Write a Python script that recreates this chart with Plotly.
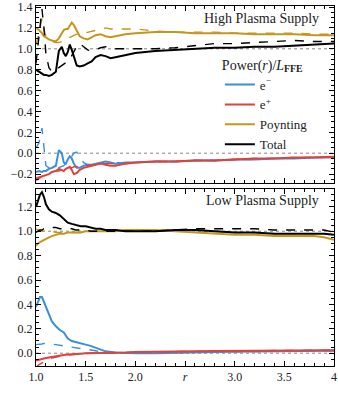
import plotly.graph_objects as go
from plotly.subplots import make_subplots

# --- Data: High plasma supply (top panel) ---
r_hi = [1.0, 1.03, 1.06, 1.08, 1.1, 1.13, 1.16, 1.2, 1.23, 1.26, 1.28, 1.3, 1.32, 1.34, 1.36, 1.38,
        1.41, 1.44, 1.48, 1.52, 1.56, 1.6, 1.65, 1.7, 1.75, 1.8, 1.9, 2.0, 2.2, 2.4, 2.6, 2.8, 3.0,
        3.2, 3.4, 3.6, 3.8, 4.0]
elec_hi = [-0.18, -0.17, -0.18, -0.17, -0.17, -0.15, -0.14, -0.12, 0.03, 0.0, -0.09, -0.10, -0.06,
           -0.03, -0.05, -0.10, -0.14, -0.14, -0.12, -0.11, -0.11, -0.10, -0.09, -0.08, -0.09, -0.10,
           -0.09, -0.09, -0.08, -0.08, -0.07, -0.07, -0.06, -0.06, -0.05, -0.05, -0.04, -0.04]
elec_hi_d = [0.05, 0.10, 0.24, 0.05, -0.12, -0.14, -0.15, -0.15, -0.14, -0.13, -0.12, -0.10, -0.08,
             -0.06, -0.03, 0.0, 0.01, -0.04, -0.09, -0.11, -0.12, -0.11, -0.10, -0.10, -0.09, -0.09,
             -0.09, -0.09, -0.08, -0.08, -0.07, -0.07, -0.06, -0.06, -0.05, -0.05, -0.04, -0.04]
posi_hi = [-0.24, -0.23, -0.22, -0.22, -0.21, -0.20, -0.18, -0.17, -0.15, -0.16, -0.17, -0.15, -0.14,
           -0.13, -0.16, -0.20, -0.19, -0.16, -0.14, -0.13, -0.12, -0.11, -0.10, -0.11, -0.12, -0.12,
           -0.10, -0.09, -0.08, -0.08, -0.07, -0.07, -0.06, -0.05, -0.05, -0.04, -0.04, -0.035]
posi_hi_d = [-0.26, -0.24, -0.22, -0.21, -0.20, -0.19, -0.18, -0.17, -0.17, -0.16, -0.16, -0.15, -0.15,
             -0.14, -0.14, -0.13, -0.13, -0.12, -0.12, -0.12, -0.11, -0.11, -0.11, -0.10, -0.10, -0.10,
             -0.10, -0.09, -0.08, -0.08, -0.07, -0.07, -0.06, -0.05, -0.05, -0.04, -0.04, -0.035]
poyn_hi = [1.20, 1.18, 1.15, 1.12, 1.11, 1.09, 1.08, 1.07, 1.10, 1.15, 1.18, 1.19, 1.19, 1.22, 1.25,
           1.23, 1.17, 1.12, 1.10, 1.09, 1.11, 1.13, 1.14, 1.12, 1.11, 1.12, 1.14, 1.15, 1.16, 1.16,
           1.15, 1.15, 1.15, 1.14, 1.14, 1.14, 1.13, 1.13]
poyn_hi_d = [1.04, 1.15, 1.29, 1.18, 1.12, 1.09, 1.07, 1.06, 1.06, 1.07, 1.08, 1.10, 1.10, 1.11, 1.12,
             1.13, 1.14, 1.14, 1.15, 1.16, 1.17, 1.18, 1.19, 1.20, 1.19, 1.19, 1.19, 1.19, 1.17, 1.16,
             1.16, 1.16, 1.15, 1.15, 1.15, 1.15, 1.14, 1.14]
tot_hi = [0.80, 0.78, 0.76, 0.75, 0.75, 0.74, 0.75, 0.78, 0.98, 1.02, 0.96, 0.93, 0.97, 1.04, 0.99,
          0.92, 0.84, 0.83, 0.84, 0.86, 0.88, 0.92, 0.94, 0.93, 0.91, 0.92, 0.94, 0.96, 0.98, 0.99,
          1.00, 1.01, 1.01, 1.02, 1.02, 1.03, 1.04, 1.05]
tot_hi_d = [0.86, 1.10, 1.38, 1.20, 0.95, 0.82, 0.78, 0.80, 0.82, 0.84, 0.85, 0.86, 0.88, 0.90, 0.93,
            0.97, 1.02, 1.05, 1.02, 0.99, 0.98, 0.99, 1.01, 1.02, 1.01, 1.00, 1.00, 1.00, 1.00, 1.01,
            1.03, 1.05, 1.05, 1.06, 1.07, 1.08, 1.07, 1.07]

# --- Data: Low plasma supply (bottom panel) ---
r_lo = [1.0, 1.02, 1.04, 1.06, 1.08, 1.1, 1.13, 1.16, 1.2, 1.24, 1.28, 1.32, 1.36, 1.4, 1.45, 1.5,
        1.55, 1.6, 1.65, 1.7, 1.8, 1.9, 2.0, 2.2, 2.4, 2.6, 2.8, 3.0, 3.2, 3.4, 3.6, 3.8, 3.9, 4.0]
elec_lo = [0.38, 0.42, 0.46, 0.46, 0.42, 0.37, 0.31, 0.26, 0.22, 0.19, 0.17, 0.12, 0.10, 0.09, 0.08,
           0.07, 0.06, 0.045, 0.03, 0.015, 0.005, 0.0, 0.0, 0.0, 0.005, 0.01, 0.01, 0.012, 0.015,
           0.015, 0.018, 0.02, 0.02, 0.02]
elec_lo_d = [0.07, 0.07, 0.07, 0.075, 0.08, 0.08, 0.08, 0.075, 0.07, 0.065, 0.06, 0.055, 0.05, 0.045,
             0.04, 0.035, 0.03, 0.02, 0.01, 0.005, 0.0, 0.0, 0.0, 0.0, 0.005, 0.01, 0.01, 0.012,
             0.015, 0.015, 0.018, 0.02, 0.02, 0.02]
posi_lo = [-0.06, -0.055, -0.05, -0.05, -0.045, -0.04, -0.035, -0.03, -0.025, -0.02, -0.015, -0.01,
           -0.01, -0.005, -0.005, 0.0, 0.0, 0.0, 0.0, 0.0, 0.005, 0.005, 0.01, 0.01, 0.012, 0.015,
           0.018, 0.02, 0.02, 0.022, 0.022, 0.025, 0.025, 0.025]
posi_lo_d = [-0.12, -0.10, -0.09, -0.08, -0.07, -0.06, -0.05, -0.04, -0.03, -0.025, -0.02, -0.015,
             -0.01, -0.01, -0.005, 0.0, 0.0, 0.0, 0.0, 0.0, 0.005, 0.005, 0.01, 0.01, 0.012, 0.015,
             0.018, 0.02, 0.02, 0.022, 0.022, 0.025, 0.025, 0.025]
poyn_lo = [0.88, 0.90, 0.91, 0.92, 0.93, 0.94, 0.95, 0.96, 0.97, 0.98, 0.98, 0.99, 0.99, 0.99, 0.99,
           1.0, 1.0, 1.0, 1.0, 1.0, 1.0, 1.01, 1.01, 1.01, 1.0, 0.99, 0.98, 0.97, 0.97, 0.96, 0.96,
           0.96, 0.95, 0.93]
poyn_lo_d = [1.02, 1.01, 1.01, 1.0, 1.0, 1.0, 1.0, 1.0, 0.99, 0.99, 0.99, 0.99, 0.99, 0.99, 0.99,
             0.99, 1.0, 1.0, 1.0, 1.0, 1.0, 1.0, 1.0, 1.01, 1.01, 1.01, 1.0, 0.99, 0.99, 0.98, 0.98,
             0.98, 0.98, 0.97]
tot_lo = [1.20, 1.25, 1.30, 1.32, 1.28, 1.22, 1.18, 1.16, 1.15, 1.13, 1.10, 1.07, 1.06, 1.05, 1.04,
          1.04, 1.03, 1.02, 1.02, 1.01, 1.01, 1.0, 1.0, 1.0, 1.01, 1.01, 1.0, 0.99, 0.99, 0.98, 0.98,
          0.98, 0.98, 0.97]
tot_lo_d = [0.99, 1.0, 1.01, 1.01, 1.02, 1.02, 1.03, 1.03, 1.03, 1.02, 1.02, 1.02, 1.02, 1.01, 1.01,
            1.01, 1.0, 1.0, 1.0, 1.0, 1.0, 1.0, 1.0, 1.0, 1.01, 1.02, 1.02, 1.02, 1.02, 1.01, 1.01,
            1.01, 1.01, 0.99]

x_ticks = [1.0, 1.5, 2.0, 2.5, 3.0, 3.5, 4.0]
x_ticktext = ["1.0", "1.5", "2.0", "<i>r</i>", "3.0", "3.5", "4"]

BLUE = "#3a8fd8"
RED = "#e2403a"
GOLD = "#c4971c"
BLACK = "#000000"
FONT = "Liberation Serif"

fig = make_subplots(rows=2, cols=1, shared_xaxes=True, vertical_spacing=0.014)

series = [
    ("e<sup>−</sup>", BLUE, (elec_hi, elec_hi_d), (elec_lo, elec_lo_d)),
    ("e<sup>+</sup>", RED, (posi_hi, posi_hi_d), (posi_lo, posi_lo_d)),
    ("Poynting", GOLD, (poyn_hi, poyn_hi_d), (poyn_lo, poyn_lo_d)),
    ("Total", BLACK, (tot_hi, tot_hi_d), (tot_lo, tot_lo_d)),
]

for name, color, hi, lo in series:
    for row, r, (solid, dashed) in [(1, r_hi, hi), (2, r_lo, lo)]:
        fig.add_trace(go.Scatter(x=r, y=dashed, mode="lines", line=dict(color=color, width=1.4, dash="dash"),
                                 showlegend=False), row=row, col=1)
        fig.add_trace(go.Scatter(x=r, y=solid, mode="lines", line=dict(color=color, width=2),
                                 name=name, legendgroup=name, showlegend=(row == 1)), row=row, col=1)

# dotted reference lines at 0 and 1
for yref in ["y", "y2"]:
    for v in [0.0, 1.0]:
        fig.add_shape(type="line", xref="x domain", yref=yref, x0=0, x1=1, y0=v, y1=v,
                      line=dict(color="#888888", width=1, dash="dot"), layer="below")

axis_style = dict(showline=True, linecolor="black", linewidth=1, mirror="allticks", ticks="inside",
                  ticklen=5, tickcolor="black", showgrid=False, zeroline=False, automargin=False,
                  ticklabeloverflow="allow",
                  tickfont=dict(family=FONT, size=12, color="#222222"))

fig.update_xaxes(range=[1.0, 4.0], tickvals=x_ticks, ticktext=x_ticktext,
                 minor=dict(dtick=0.1, ticks="inside", ticklen=3, tickcolor="black"), **axis_style)
fig.update_xaxes(showticklabels=False, row=1, col=1)
fig.update_yaxes(minor=dict(dtick=0.05, ticks="inside", ticklen=3, tickcolor="black"),
                 tickformat=".1f", dtick=0.2, **axis_style)
fig.update_yaxes(range=[-0.29, 1.41], row=1, col=1)
fig.update_yaxes(range=[-0.105, 1.35], row=2, col=1)

fig.add_annotation(text="High Plasma Supply", xref="x domain", yref="y domain", x=0.955, y=0.985,
                   xanchor="right", yanchor="top", showarrow=False,
                   font=dict(family=FONT, size=14, color="#222222"), row=1, col=1)
fig.add_annotation(text="Low Plasma Supply", xref="x2 domain", yref="y2 domain", x=0.955, y=0.985,
                   xanchor="right", yanchor="top", showarrow=False,
                   font=dict(family=FONT, size=14, color="#222222"))

fig.update_layout(
    width=338, height=393,
    margin=dict(l=36, r=4, t=6, b=27),
    plot_bgcolor="white", paper_bgcolor="white",
    font=dict(family=FONT, size=14, color="#222222"),
    legend=dict(x=0.617, y=0.874, xanchor="left", yanchor="top", bgcolor="rgba(0,0,0,0)",
                title=dict(text="Power(<i>r</i>)/<i>L</i><sub><b>FFE</b></sub>", font=dict(size=14)),
                font=dict(size=13), tracegroupgap=0),
)

# drop the default page margin so the figure fills the window exactly
fig.write_html("out.html", config={"displayModeBar": False},
               post_script="document.body.style.margin='0px';")
